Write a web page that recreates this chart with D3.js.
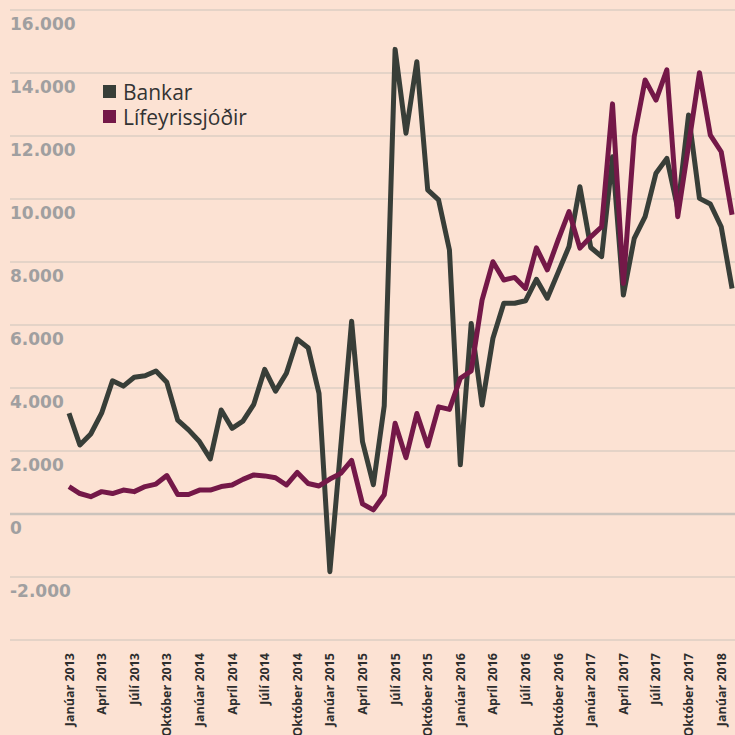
<!DOCTYPE html>
<html>
<head>
<meta charset="utf-8">
<script src="https://cdn.jsdelivr.net/npm/d3@7"></script>
<style>
  html, body { margin: 0; padding: 0; background: #fce2d3; overflow: hidden; }
  svg { display: block; }
</style>
</head>
<body>
<div id="chart"></div>
<script>
// monthly values, Janúar 2013 - Febrúar 2018
const bankar = [
  3200, 2190, 2540, 3200, 4230, 4060, 4340, 4390, 4540, 4180, 2980, 2670,
  2300, 1750, 3300, 2720, 2950, 3480, 4590, 3900, 4470, 5550, 5280, 3830,
  -1830, 2130, 6120, 2300, 930, 3430, 14750, 12090, 14360, 10290, 9970, 8380,
  1560, 6050, 3460, 5580, 6690, 6690, 6770, 7450, 6850, 7670, 8490, 10390,
  8460, 8170, 11340, 6950, 8750, 9440, 10820, 11290, 9700, 12670, 10020, 9840,
  9120, 7160
]
const lifeyrissjodir = [
  870, 650, 550, 710, 650, 760, 710, 870, 950, 1220, 620, 620,
  760, 760, 870, 920, 1100, 1240, 1210, 1150, 920, 1320, 970, 890,
  1110, 1290, 1700, 320, 130, 610, 2880, 1790, 3190, 2160, 3400, 3320,
  4310, 4540, 6790, 8010, 7430, 7510, 7160, 8450, 7750, 8700, 9600, 8440,
  8800, 9120, 13020, 7320, 11980, 13780, 13140, 14100, 9440, 11710, 14010, 12030,
  11500, 9500
]
const tickLabels = [
  'Janúar 2013', 'Apríl 2013', 'Júlí 2013', 'Október 2013',
  'Janúar 2014', 'Apríl 2014', 'Júlí 2014', 'Október 2014',
  'Janúar 2015', 'Apríl 2015', 'Júlí 2015', 'Október 2015',
  'Janúar 2016', 'Apríl 2016', 'Júlí 2016', 'Október 2016',
  'Janúar 2017', 'Apríl 2017', 'Júlí 2017', 'Október 2017',
  'Janúar 2018'
]
const yTicks = [-4000, -2000, 0, 2000, 4000, 6000, 8000, 10000, 12000, 14000, 16000]
const seriesNames = ['Bankar', 'Lífeyrissjóðir']
const colors = ['#383e38', '#741848']

const W = 735, H = 735

const svg = d3.select('#chart').append('svg')
  .attr('width', W)
  .attr('height', H)

svg.append('rect')
  .attr('width', W)
  .attr('height', H)
  .attr('fill', '#fce2d3')

const x = d3.scaleLinear()
  .domain([0, bankar.length - 1])
  .range([69, 69 + (bankar.length - 1) * 10.87])

const y = d3.scaleLinear()
  .domain([-4000, 16000])
  .range([640, 10])

const fmt = d3.formatLocale({
  decimal: ',', thousands: '.', grouping: [3], currency: ['', ''], minus: '-'
}).format(',')

// gridlines
svg.selectAll('line.grid')
  .data(yTicks)
  .enter()
  .append('line')
  .attr('class', 'grid')
  .attr('x1', 10)
  .attr('x2', W)
  .attr('y1', d => y(d))
  .attr('y2', d => y(d))
  .attr('stroke', '#cbc3bc')
  .attr('stroke-width', d => d === 0 ? 2.5 : 1.2)

// y labels sit under their gridline
svg.selectAll('text.ylab')
  .data(yTicks.filter(d => d > -4000))
  .enter()
  .append('text')
  .attr('class', 'ylab')
  .attr('x', 10)
  .attr('y', d => y(d) + 20)
  .attr('fill', '#a09fa0')
  .style('font-family', '"DejaVu Sans", sans-serif')
  .style('font-weight', 'bold')
  .style('font-size', '17px')
  .text(d => fmt(d))

// x labels, every third month
svg.selectAll('text.xlab')
  .data(tickLabels)
  .enter()
  .append('text')
  .attr('class', 'xlab')
  .attr('transform', (d, i) => `translate(${x(i * 3) + 4.5},653) rotate(-90)`)
  .attr('text-anchor', 'end')
  .attr('fill', '#2e2e2e')
  .style('font-family', '"Open Sans", sans-serif')
  .style('font-weight', 'bold')
  .style('font-size', '12.5px')
  .text(d => d)

const line = d3.line()
  .x((d, i) => x(i))
  .y(d => y(d))

svg.selectAll('path.series')
  .data([bankar, lifeyrissjodir])
  .enter()
  .append('path')
  .attr('class', 'series')
  .attr('d', line)
  .attr('fill', 'none')
  .attr('stroke', (d, i) => colors[i])
  .attr('stroke-width', 5)
  .attr('stroke-linejoin', 'round')

// legend
const legend = svg.selectAll('g.legend')
  .data(seriesNames)
  .enter()
  .append('g')
  .attr('class', 'legend')
  .attr('transform', (d, i) => `translate(103,${85 + i * 25})`)

legend.append('rect')
  .attr('width', 13)
  .attr('height', 13)
  .attr('fill', (d, i) => colors[i])

legend.append('text')
  .attr('x', 20)
  .attr('y', 15)
  .attr('fill', '#333')
  .style('font-family', '"Open Sans", sans-serif')
  .style('font-size', '21px')
  .text(d => d)
</script>
</body>
</html>
